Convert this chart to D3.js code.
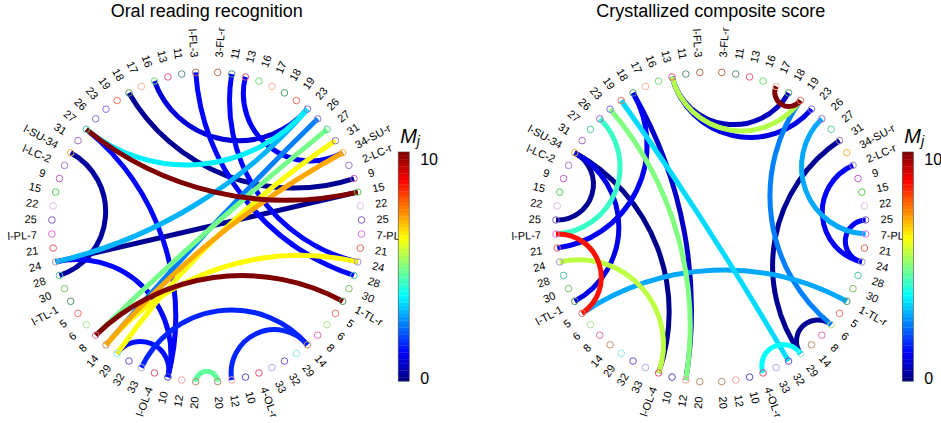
<!DOCTYPE html>
<html>
<head>
<meta charset="utf-8">
<script src="https://cdn.jsdelivr.net/npm/d3@7"></script>
<style>
  body { margin: 0; background: #fff; }
  text { font-family: "Liberation Sans", Arial, sans-serif; }
</style>
</head>
<body>
<div id="chart"></div>
<script>
// node labels, going down from the top on each side of the circle
var leftLabels = ["l-FL-3","11","13","16","17","18","19","23","26","27","31","l-SU-34","l-LC-2","9","15","22","25","l-PL-7","21","24","28","30","l-TL-1","5","6","8","14","29","32","33","l-OL-4","10","12","20"];
var rightLabels = ["3-FL-r","11","13","16","17","18","19","23","26","27","31","34-SU-r","2-LC-r","9","15","22","25","7-PL-r","21","24","28","30","1-TL-r","5","6","8","14","29","32","33","4-OL-r","10","12","20"];
var nodeColors = ["#b07050","#609080","#e06080","#70e070","#f0b8a0","#50a070","#e87060","#8070e0","#9070c8","#50d090","#a070c0","#f0b040","#a080d0","#c060c0","#50d050","#e0c0e8","#8060c0","#e070e0","#e86060","#a098c0","#50c8a0","#80c060","#509060","#f07070","#b0e090","#e070b0","#c09070","#90e8e8","#7050d0","#b8a8e0","#e05070","#5050c0","#f0a8a8","#b09070"];

var panelTitles = ["Oral reading recognition", "Crystallized composite score"];

// edges: [node, node, M_j]
var oralEdges = [
  ["L9","R14",10], ["L25","R22",10], ["L9","R7",3.6], ["L19","R7",3.0],
  ["L19","R14",0.2], ["L11","L20",0.3], ["L5","R13",0.2], ["L3","R7",0.9],
  ["L0","R20",1.3], ["R1","R19",1.3], ["R2","R11",1.2], ["R8","L26",2.5],
  ["R9","L25",4.9], ["R10","L27",6.2], ["R11","L26",7.1], ["R19","L26",6.3],
  ["L9","L31",1.3], ["L19","L31",1.3], ["L27","L31",1.4], ["L29","R26",1.6],
  ["R26","R32",1.6], ["L33","R33",4.7]
];
var crystEdges = [
  ["L2","R5",0.6], ["L2","R6",5.5], ["L2","R7",1.0], ["R4","R6",10],
  ["L6","R28",3.4], ["L5","L18",1.2], ["L5","L32",0.7], ["L7","L32",5.0],
  ["L8","L17",4.3], ["L11","L16",0.2], ["L11","L22",1.0], ["L11","L30",0.15],
  ["L17","L23",8.6], ["L19","L30",5.6], ["L23","R22",2.9], ["R6","R24",2.5],
  ["R8","R17",2.9], ["R10","R27",0.2], ["R12","R19",1.2], ["R16","R19",1.2],
  ["R24","R27",0.2], ["R27","R30",3.75]
];
var colorbarTicks = [0, 10];

var svgWidth = 941, svgHeight = 423;
var radius = 155, labelRadius = 170, cy = 227;

var svg = d3.select("#chart").append("svg")
  .attr("width", svgWidth)
  .attr("height", svgHeight);

// matlab jet
function jet(t) {
  var c = function(x) { return Math.max(0, Math.min(1, x)); };
  return d3.rgb(255 * c(1.5 - Math.abs(4 * t - 3)),
                255 * c(1.5 - Math.abs(4 * t - 2)),
                255 * c(1.5 - Math.abs(4 * t - 1))).toString();
}
var colorScale = d3.scaleSequential(jet).domain([0, 10]);

// index on one side -> degrees from the top
var angleScale = d3.scaleLinear().domain([0, 33]).range([4.07, 175.93]);

var nodes = [];
leftLabels.forEach(function(l, i) {
  nodes.push({id: "L" + i, side: "L", label: l, color: nodeColors[i], angle: -angleScale(i)});
});
rightLabels.forEach(function(l, i) {
  nodes.push({id: "R" + i, side: "R", label: l, color: nodeColors[i], angle: angleScale(i)});
});
var nodeById = {};
nodes.forEach(function(n) { nodeById[n.id] = n; });

var panels = [
  {title: panelTitles[0], edges: oralEdges, cx: 206.7},
  {title: panelTitles[1], edges: crystEdges, cx: 710.8}
];

function pos(n, cx, r) {
  var a = n.angle * Math.PI / 180;
  return [cx + r * Math.sin(a), cy - r * Math.cos(a)];
}

// arc orthogonal to the node circle
function edgePath(n1, n2, cx) {
  var p = pos(n1, cx, radius), q = pos(n2, cx, radius);
  var sep = Math.abs(n1.angle - n2.angle);
  if (sep > 180) sep = 360 - sep;
  if (sep > 179.5) return "M" + p + "L" + q;
  var r = radius * Math.tan(sep / 2 * Math.PI / 180);
  var cross = (q[0] - p[0]) * (cy - p[1]) - (q[1] - p[1]) * (cx - p[0]);
  var sweep = cross > 0 ? 0 : 1;
  return "M" + p[0] + "," + p[1] + "A" + r + "," + r + " 0 0 " + sweep + " " + q[0] + "," + q[1];
}

panels.forEach(function(panel) {
  var cx = panel.cx;
  var g = svg.append("g");

  g.append("text")
    .attr("x", cx)
    .attr("y", 16.5)
    .attr("text-anchor", "middle")
    .attr("font-size", "18px")
    .attr("fill", "#000")
    .text(panel.title);

  var edges = panel.edges.slice().sort(function(a, b) { return a[2] - b[2]; });

  g.append("g").selectAll("path")
    .data(edges)
    .enter()
    .append("path")
    .attr("d", function(d) { return edgePath(nodeById[d[0]], nodeById[d[1]], cx); })
    .attr("fill", "none")
    .attr("stroke", function(d) { return colorScale(d[2]); })
    .attr("stroke-width", 5)
    .attr("stroke-linecap", "butt");

  g.append("g").selectAll("circle")
    .data(nodes)
    .enter()
    .append("circle")
    .attr("cx", function(d) { return pos(d, cx, radius)[0]; })
    .attr("cy", function(d) { return pos(d, cx, radius)[1]; })
    .attr("r", 3.3)
    .attr("fill", "none")
    .attr("stroke", function(d) { return d.color; })
    .attr("stroke-width", 1);

  g.append("g").selectAll("text")
    .data(nodes)
    .enter()
    .append("text")
    .attr("transform", function(d) {
      var p = pos(d, cx, labelRadius);
      var rot = d.side == "R" ? d.angle - 90 : d.angle + 90;
      return "translate(" + p[0] + "," + p[1] + ") rotate(" + rot + ")";
    })
    .attr("text-anchor", function(d) { return d.side == "R" ? "start" : "end"; })
    .attr("dominant-baseline", "central")
    .attr("font-size", "11px")
    .attr("fill", "#000")
    .text(function(d) { return d.label; });

  // colorbar
  var barX = cx + 191.5, barW = 11;
  var barScale = d3.scaleLinear().domain([0, 10]).range([378, 159]);
  var steps = d3.range(64);
  var stepVal = d3.scaleLinear().domain([0, 64]).range([-0.14, 10.32]);
  var cb = g.append("g");
  cb.selectAll("rect")
    .data(steps)
    .enter()
    .append("rect")
    .attr("x", barX)
    .attr("width", barW)
    .attr("y", function(d) { return barScale(stepVal(d + 1)); })
    .attr("height", function(d) { return barScale(stepVal(d)) - barScale(stepVal(d + 1)) + 0.3; })
    .attr("fill", function(d) { return colorScale((d + 0.5) / 64 * 10); });
  cb.append("rect")
    .attr("x", barX)
    .attr("y", barScale(stepVal(64)))
    .attr("width", barW)
    .attr("height", barScale(stepVal(0)) - barScale(stepVal(64)))
    .attr("fill", "none")
    .attr("stroke", "#444")
    .attr("stroke-width", 0.6);
  cb.selectAll(".tk")
    .data(colorbarTicks)
    .enter()
    .append("text")
    .attr("x", barX + 22)
    .attr("y", function(d) { return barScale(d); })
    .attr("dominant-baseline", "central")
    .attr("font-size", "16px")
    .attr("fill", "#000")
    .text(function(d) { return d; });

  var mj = cb.append("text")
    .attr("x", barX + 2)
    .attr("y", 143)
    .attr("font-family", "'Liberation Serif', 'DejaVu Serif', serif")
    .attr("font-style", "italic")
    .attr("fill", "#000");
  mj.append("tspan").attr("font-size", "20px").text("M");
  mj.append("tspan").attr("font-size", "14px").attr("dy", 3).text("j");
});
</script>
</body>
</html>
